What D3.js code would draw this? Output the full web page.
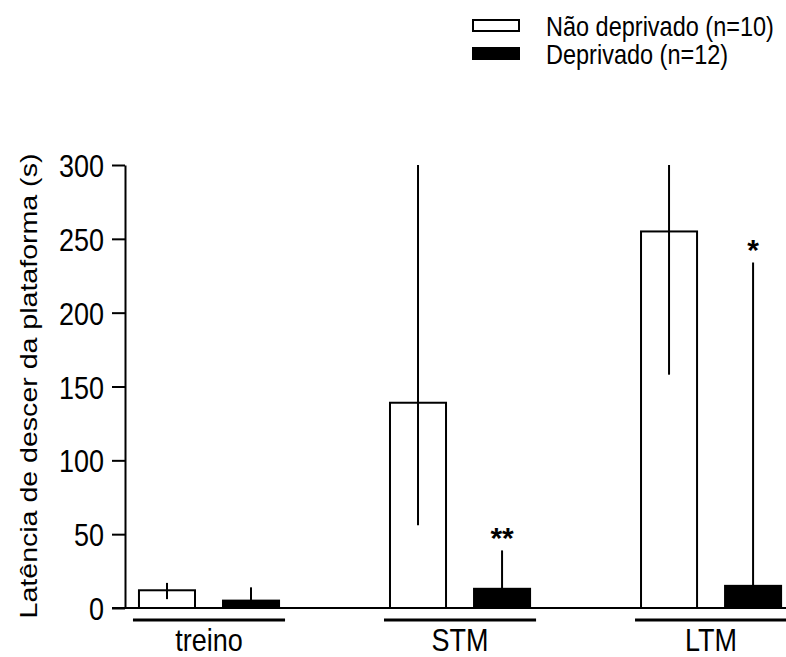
<!DOCTYPE html>
<html>
<head>
<meta charset="utf-8">
<script src="https://cdn.jsdelivr.net/npm/d3@7"></script>
<style>
  body { margin: 0; background: #fff; }
  text { font-family: Arial, "Liberation Sans", sans-serif; fill: #000; }
</style>
</head>
<body>
<svg id="chart"></svg>
<script>
// groups along the x axis
const groups = ["treino", "STM", "LTM"];
// series
const seriesKeys = ["nd", "d"];
const seriesNames = ["Não deprivado (n=10)", "Deprivado (n=12)"];
const seriesFill = ["#fff", "#000"];
// bar heights (s)
const meanND = [12, 139, 255];
const meanD = [5, 13, 15];
// error bar ends (s), lower / upper
const errLowND = [6, 56, 158];
const errHighND = [17, 300, 300];
const errLowD = [5, 13, 15];
const errHighD = [14, 39, 234];
// significance marks over the deprived bars
const sigD = ["", "**", "*"];
const yTicks = [0, 50, 100, 150, 200, 250, 300];

const width = 786, height = 657;
const margin = { top: 165, bottom: 49, left: 125, right: 0 };
const stretch = 1.19; // the original figure's text is a bit tall

const svg = d3.select("#chart").attr("width", width).attr("height", height);

const y = d3.scaleLinear().domain([0, 300]).range([height - margin.bottom, margin.top]);

const x0 = d3.scaleBand()
    .domain(groups)
    .range([margin.left, width])
    .paddingInner(0.442)
    .paddingOuter(0.0376)
    .align(0.74);

const x1 = d3.scaleBand()
    .domain(seriesKeys)
    .range([0, x0.bandwidth()])
    .paddingInner(1 / 3);

let rows = [];
groups.forEach((g, i) => {
    rows.push({ g: g, key: "nd", mean: meanND[i], lo: errLowND[i], hi: errHighND[i], sig: "" });
    rows.push({ g: g, key: "d", mean: meanD[i], lo: errLowD[i], hi: errHighD[i], sig: sigD[i] });
});

const fillOf = k => seriesFill[seriesKeys.indexOf(k)];
const cx = d => x0(d.g) + x1(d.key) + x1.bandwidth() / 2;

// error bars behind the bars
svg.append("g").selectAll("line")
    .data(rows)
    .join("line")
    .attr("x1", cx)
    .attr("x2", cx)
    .attr("y1", d => y(d.lo))
    .attr("y2", d => y(d.hi))
    .attr("stroke", "#000")
    .attr("stroke-width", 2);

svg.append("g").selectAll("rect")
    .data(rows)
    .join("rect")
    .attr("x", d => x0(d.g) + x1(d.key))
    .attr("y", d => y(d.mean))
    .attr("width", x1.bandwidth())
    .attr("height", d => y(0) - y(d.mean))
    .attr("fill", d => d.key == "nd" ? "none" : "#000")
    .attr("stroke", "#000")
    .attr("stroke-width", 2);

// asterisks
svg.append("g").selectAll("text")
    .data(rows.filter(d => d.sig))
    .join("text")
    .attr("transform", d => `translate(${cx(d)},${y(d.hi) - 2})`)
    .attr("text-anchor", "middle")
    .style("font-size", "30px")
    .style("font-weight", "bold")
    .text(d => d.sig);

// y axis
const yAxis = d3.axisLeft(y).tickValues(yTicks).tickSize(13).tickSizeOuter(0).tickPadding(8);
const yAxisG = svg.append("g")
    .attr("transform", `translate(${margin.left},0)`)
    .call(yAxis);
yAxisG.select(".domain").attr("stroke-width", 2);
yAxisG.selectAll(".tick line").attr("stroke-width", 2);
yAxisG.selectAll(".tick text")
    .attr("font-family", null)
    .style("font-size", "27px")
    .attr("dy", "0.36em")
    .attr("transform", `scale(1,${stretch})`);

// baseline
svg.append("line")
    .attr("x1", margin.left - 13)
    .attr("x2", width)
    .attr("y1", y(0))
    .attr("y2", y(0))
    .attr("stroke", "#000")
    .attr("stroke-width", 2);

// group underlines + labels
const under = svg.append("g").selectAll("g")
    .data(groups)
    .join("g");
under.append("line")
    .attr("x1", g => x0(g) - 6)
    .attr("x2", g => x0(g) + x0.bandwidth() + 6)
    .attr("y1", y(0) + 12)
    .attr("y2", y(0) + 12)
    .attr("stroke", "#000")
    .attr("stroke-width", 3);
under.append("text")
    .attr("transform", g => `translate(${x0(g) + x0.bandwidth() / 2},651) scale(1,${stretch})`)
    .attr("text-anchor", "middle")
    .style("font-size", "27px")
    .text(g => g);

// y title
svg.append("text")
    .attr("transform", `translate(37,386) rotate(-90) scale(${stretch},1)`)
    .attr("text-anchor", "middle")
    .style("font-size", "24px")
    .text("Latência de descer da plataforma (s)");

// legend
const legend = svg.append("g").selectAll("g")
    .data(seriesKeys)
    .join("g")
    .attr("transform", (d, i) => `translate(472,${19 + i * 28})`);
legend.append("rect")
    .attr("x", 1)
    .attr("y", 1)
    .attr("width", 46)
    .attr("height", 11)
    .attr("fill", d => fillOf(d))
    .attr("stroke", "#000")
    .attr("stroke-width", 2);
legend.append("text")
    .attr("transform", `translate(74,7) scale(1,1.15)`)
    .attr("dy", "0.36em")
    .style("font-size", "23.5px")
    .text((d, i) => seriesNames[i]);
</script>
</body>
</html>
